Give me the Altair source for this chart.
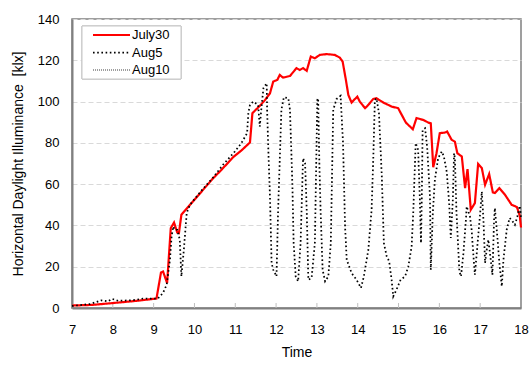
import altair as alt
import pandas as pd

# Horizontal daylight illuminance [klx] against time of day
series_names = ["July30", "Aug5", "Aug10"]

july30_time = [7.00, 7.50, 8.17, 8.60, 9.07, 9.18, 9.23, 9.33, 9.42, 9.50, 9.58, 9.62, 9.68, 9.89,
               10.20, 10.46, 10.66, 10.95, 11.15, 11.36, 11.42, 11.60, 11.73, 11.85, 11.93, 12.03,
               12.09, 12.17, 12.34, 12.50, 12.58, 12.66, 12.75, 12.85, 12.95, 13.07, 13.24, 13.44,
               13.56, 13.63, 13.71, 13.77, 13.85, 13.93, 13.99, 14.05, 14.18, 14.26, 14.38, 14.46,
               14.63, 14.83, 14.99, 15.18, 15.35, 15.44, 15.61, 15.73, 15.79, 15.85, 15.93, 16.01,
               16.14, 16.19, 16.30, 16.38, 16.44, 16.55, 16.63, 16.69, 16.77, 16.87, 16.95, 17.04,
               17.12, 17.22, 17.31, 17.36, 17.47, 17.61, 17.77, 17.90, 17.97, 18.00]
july30_klx = [1.2, 1.5, 2.7, 3.5, 4.6, 17.2, 17.7, 12.1, 38.7, 41.4, 36.5, 36.3, 45.2, 50.0,
              57.0, 62.9, 66.9, 73.1, 76.3, 80.2, 94.4, 97.9, 100.8, 104.0, 109.7, 110.5,
              112.9, 111.6, 112.4, 116.2, 115.3, 116.2, 114.9, 121.8, 121.0, 122.6, 123.0, 122.6,
              121.3, 119.4, 110.5, 103.2, 99.5, 101.2, 102.4, 100.0, 96.8, 98.4, 101.3, 101.6,
              99.5, 97.6, 96.8, 89.8, 86.6, 92.0, 91.1, 89.8, 89.5, 68.2, 75.0, 84.7,
              85.0, 85.5, 81.5, 80.6, 75.0, 73.4, 58.1, 67.3, 47.6, 50.8, 69.8, 67.8,
              59.7, 64.9, 56.0, 55.7, 58.1, 54.8, 50.0, 48.9, 44.7, 39.0]

aug5_time = [7.00, 7.44, 7.72, 7.88, 7.99, 8.13, 8.42, 8.58, 8.74, 8.99, 9.10, 9.23, 9.32, 9.40,
             9.44, 9.48, 9.52, 9.58, 9.64, 9.68, 9.74, 9.81, 9.89, 10.20, 10.46, 10.70, 10.99,
             11.15, 11.29, 11.32, 11.36, 11.44, 11.56, 11.60, 11.64, 11.69, 11.77, 11.78, 11.81,
             11.85, 11.89, 11.93, 12.01, 12.05, 12.13, 12.19, 12.30, 12.34, 12.38, 12.40, 12.43,
             12.48, 12.54, 12.60, 12.66, 12.71, 12.75, 12.79, 12.87, 12.95, 13.01, 13.03, 13.06,
             13.09, 13.14, 13.20, 13.28, 13.34, 13.40, 13.48, 13.58, 13.64, 13.69, 13.73, 13.85,
             13.97, 14.08, 14.15, 14.26, 14.34, 14.38, 14.42, 14.46, 14.52, 14.59, 14.64, 14.71,
             14.77, 14.83, 14.87, 14.95, 15.05, 15.16, 15.24, 15.32, 15.36, 15.42, 15.48, 15.52,
             15.55, 15.57, 15.59, 15.65, 15.70, 15.77, 15.79, 15.84, 15.89, 15.97, 16.06, 16.11,
             16.18, 16.24, 16.28, 16.33, 16.36, 16.38, 16.42, 16.49, 16.53, 16.59, 16.65, 16.67,
             16.75, 16.79, 16.83, 16.87, 16.93, 17.00, 17.04, 17.08, 17.12, 17.16, 17.20, 17.24,
             17.30, 17.34, 17.36, 17.42, 17.47, 17.53, 17.57, 17.65, 17.72, 17.77, 17.85, 17.91,
             17.97, 18.00]
aug5_klx = [1.0, 1.9, 3.7, 3.2, 4.4, 3.5, 3.7, 4.0, 4.6, 4.6, 4.5, 7.3, 11.3, 23.4,
            34.7, 39.5, 37.9, 37.9, 33.1, 15.3, 28.2, 46.0, 50.0, 57.5, 63.3, 69.4, 75.8,
            79.9, 84.7, 94.4, 98.4, 100.0, 98.4, 87.9, 96.8, 106.5, 108.9, 96.0, 76.6,
            54.0, 21.8, 18.5, 15.3, 47.6, 96.0, 102.1, 101.6, 96.0, 71.8, 58.9, 31.5,
            15.3, 12.9, 31.5, 72.5, 70.2, 47.6, 13.7, 14.5, 31.5, 100.8, 101.6, 70.0,
            47.6, 18.5, 12.9, 15.3, 31.5, 96.0, 101.2, 102.8, 79.8, 39.5, 23.4, 16.9,
            13.7, 9.7, 15.3, 28.2, 47.6, 71.8, 100.8, 101.6, 94.4, 63.7, 31.5, 25.0,
            22.6, 13.7, 5.6, 8.9, 13.7, 15.3, 20.1, 29.8, 46.0, 79.9, 76.6, 54.0,
            31.5, 54.0, 86.3, 87.1, 78.2, 54.0, 18.5, 46.0, 62.1, 72.6, 75.8, 73.4,
            66.0, 50.8, 33.9, 52.4, 75.0, 72.6, 46.0, 17.7, 15.3, 26.6, 42.7, 49.2,
            44.3, 37.9, 26.6, 16.1, 29.8, 46.0, 56.4, 42.7, 21.8, 28.2, 33.1, 26.6,
            16.1, 42.7, 48.4, 34.7, 21.8, 10.5, 23.4, 37.9, 43.6, 42.7, 40.3, 44.3,
            49.5, 44.0]

# Aug10 appears in the key only; no readings are drawn for it
aug10_time = []
aug10_klx = []

hour_ticks = list(range(7, 19))
klx_ticks = list(range(0, 141, 20))

frames = []
for name, t, v in [("July30", july30_time, july30_klx),
                   ("Aug5", aug5_time, aug5_klx),
                   ("Aug10", aug10_time, aug10_klx)]:
    frames.append(pd.DataFrame({"series": [name] * len(t), "time": t, "klx": v,
                                "order": range(len(t))}))
df = pd.concat(frames, ignore_index=True)

FONT = "Liberation Sans"
color_scale = alt.Scale(domain=series_names, range=["#ff0000", "#000000", "#7f7f7f"])
dash_scale = alt.Scale(domain=series_names, range=[[1, 0], [1.6, 2.6], [1, 1]])
width_scale = alt.Scale(domain=series_names, range=[2.2, 1.3, 1.6])

x_axis = alt.Axis(values=hour_ticks, format="d", grid=False, ticks=False, labelFlush=False,
                  labelPadding=15, labelFontSize=13, labelFont=FONT, labelColor="#000",
                  title="Time", titleFont=FONT, titleFontSize=14, titleFontWeight="normal",
                  titleColor="#000", titlePadding=9, domainColor="#808080", domainWidth=2)
y_axis = alt.Axis(values=klx_ticks, grid=True, gridDash=[5, 3], gridColor="#d9d9d9",
                  ticks=False, labelFlush=False, labelPadding=13, labelFontSize=13,
                  labelFont=FONT, labelColor="#000",
                  title="Horizontal Daylight Illuminance\u00a0 [klx]",
                  titleFont=FONT, titleFontSize=14, titleFontWeight="normal",
                  titleColor="#000", titlePadding=12, domainColor="#808080", domainWidth=2)

lines = alt.Chart(df).mark_line(strokeCap="butt").encode(
    x=alt.X("time:Q", scale=alt.Scale(domain=[7, 18], nice=False), axis=x_axis),
    y=alt.Y("klx:Q", scale=alt.Scale(domain=[0, 140], nice=False), axis=y_axis),
    color=alt.Color("series:N", scale=color_scale, legend=None),
    strokeDash=alt.StrokeDash("series:N", scale=dash_scale, legend=None),
    strokeWidth=alt.StrokeWidth("series:N", scale=width_scale, legend=None),
    detail="series:N",
    order="order:Q",
)

# small inward tick marks along the time axis
tick_df = pd.DataFrame({"time": hour_ticks[1:-1]})
ticks = alt.Chart(tick_df).mark_rule(color="#bfbfbf", strokeWidth=1).encode(
    x=alt.X("time:Q", scale=alt.Scale(domain=[7, 18], nice=False)),
    y=alt.value(289), y2=alt.value(284),
)

# key box in the upper left corner
key_df = pd.DataFrame({"series": series_names, "row": [0, 1, 2]})
key_box = alt.Chart(key_df).mark_rect(fill="white", stroke="#c8c8c8", strokeWidth=1).encode(
    x=alt.value(10), x2=alt.value(109), y=alt.value(7), y2=alt.value(60),
)
key_y = alt.Y("row:Q", scale=alt.Scale(domain=[0, 2], range=[16, 51]), axis=None)
key_lines = alt.Chart(key_df).mark_rule().encode(
    x=alt.value(21), x2=alt.value(58), y=key_y,
    color=alt.Color("series:N", scale=color_scale, legend=None),
    strokeDash=alt.StrokeDash("series:N", scale=dash_scale, legend=None),
    strokeWidth=alt.StrokeWidth("series:N", scale=width_scale, legend=None),
)
key_text = alt.Chart(key_df).mark_text(align="left", baseline="middle", font=FONT,
                                       fontSize=13, color="#000").encode(
    x=alt.value(60), y=key_y, text="series:N",
)

chart = alt.layer(ticks, lines, key_box, key_lines, key_text).resolve_scale(
    y="independent"
).properties(
    width=449, height=289, autosize="none",
    padding={"left": 72, "top": 19, "right": 10, "bottom": 57},
    background="white",
).configure_view(stroke="#808080", strokeWidth=1.5)

chart.save("out.html", embed_options={"renderer": "svg", "actions": False})
